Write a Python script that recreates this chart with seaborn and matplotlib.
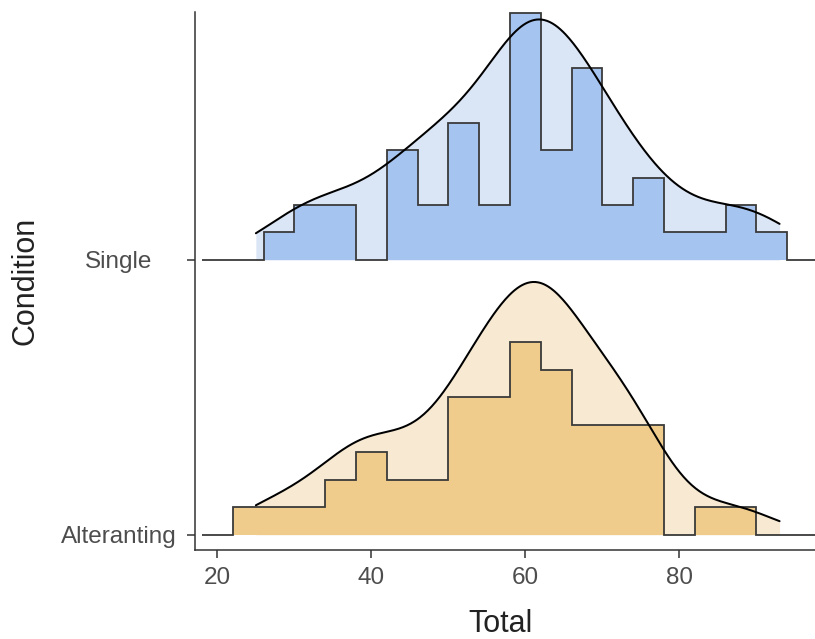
import numpy as np
import matplotlib
matplotlib.use("Agg")
import matplotlib.pyplot as plt
import seaborn as sns

# scores per condition (4-point bins)
conditions = ["Alteranting", "Single"]
alternating_total = [25, 29, 33, 36, 37, 39, 40, 41, 43, 45, 47, 49,
                     51, 52, 52, 53, 53, 55, 56, 56, 57, 57,
                     59, 60, 60, 61, 61, 61, 61, 62, 63, 63, 64, 65, 65,
                     66, 67, 68, 69, 70, 71, 72, 73, 74, 75, 76, 77, 85, 89]
single_total = [27, 31, 33, 35, 37, 42, 43, 44, 45, 47, 49,
                50, 51, 52, 52, 53, 56, 57,
                58, 59, 59, 60, 60, 61, 61, 61, 61, 62, 62, 63, 64,
                66, 67, 67, 68, 68, 69, 69, 71, 73, 74, 76, 77, 80, 85, 88, 89, 93]
hist_colors = ["#F0CC8C", "#A6C4F0"]
dens_colors = ["#F8EAD2", "#DAE5F6"]
bin_edges = np.arange(18, 102, 4)
x_ticks = [20, 40, 60, 80]


def bw_nrd0(x):
    x = np.asarray(x, float)
    iqr = np.subtract(*np.percentile(x, [75, 25]))
    return 0.9 * min(x.std(ddof=1), iqr / 1.34) * len(x) ** -0.2


def kde(x, grid):
    x = np.asarray(x, float)
    h = bw_nrd0(x)
    z = (grid[:, None] - x[None, :]) / h
    return np.exp(-0.5 * z ** 2).sum(axis=1) / (len(x) * h * np.sqrt(2 * np.pi))


sns.set_theme(style="ticks")
plt.rcParams['font.family'] = ['Liberation Sans', 'DejaVu Sans']

fig = plt.figure(figsize=(8.15, 6.39), dpi=100)
ax = fig.add_axes([0.2393, 0.1393, 0.7607, 0.8419])

groups = [alternating_total, single_total]
lo = min(min(g) for g in groups)
hi = max(max(g) for g in groups)
grid = np.linspace(lo, hi, 400)
dens = [kde(g, grid) for g in groups]
scale = 0.92 / max(d.max() for d in dens)

for i in [1, 0]:
    z = 10 - 3 * i
    y = i + dens[i] * scale
    ax.fill_between(grid, i, y, color=dens_colors[i], lw=0, zorder=z)
    counts, _ = np.histogram(groups[i], bins=bin_edges)
    ax.stairs(i + counts * 0.1, bin_edges, baseline=i, fill=True,
              color=hist_colors[i], lw=0, zorder=z + 0.5)
    ax.stairs(i + counts * 0.1, bin_edges, baseline=i, fill=False,
              color="#3a3a3a", lw=1.3, zorder=z + 1)
    sns.lineplot(x=grid, y=y, ax=ax, color="black", lw=1.45,
                 legend=False, zorder=z + 2)

ax.set_xlim(17.1, 97.6)
ax.set_ylim(-0.055, 1.902)
ax.set_xticks(x_ticks)
ax.set_yticks([0, 1])
ax.set_yticklabels(conditions)
for lab in ax.get_yticklabels():
    lab.set_horizontalalignment("center")

sns.despine(ax=ax)
for s in ["left", "bottom"]:
    ax.spines[s].set_color("#333333")
    ax.spines[s].set_linewidth(1.1)
ax.tick_params(axis="both", colors="#333333", length=5.5, width=1.1,
               labelsize=17.5, labelcolor="#4D4D4D")
ax.tick_params(axis="y", pad=49.7)
ax.tick_params(axis="x", pad=7)

ax.set_xlabel("Total", fontsize=22, color="#222222")
ax.set_ylabel("Condition", fontsize=22, color="#222222")
ax.xaxis.set_label_coords(0.4927, -0.1375)
ax.xaxis.label.set_va("center")
ax.yaxis.set_label_coords(-0.274, 0.5)
ax.yaxis.label.set_va("center")

fig.savefig("out.png", dpi=100)
